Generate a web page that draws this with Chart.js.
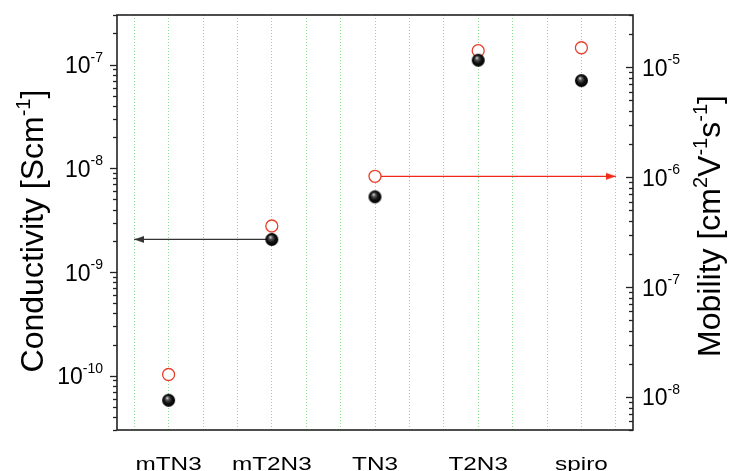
<!DOCTYPE html>
<html>
<head>
<meta charset="utf-8">
<script src="https://cdn.jsdelivr.net/npm/chart.js@4.4.0/dist/chart.umd.min.js"></script>
<style>
  html, body { margin: 0; padding: 0; background: #fff; }
  #wrap { width: 731px; height: 471px; }
</style>
</head>
<body>
<div id="wrap"><canvas id="chart" width="731" height="471"></canvas></div>
<script>
// values
var categories = ['mTN3', 'mT2N3', 'TN3', 'T2N3', 'spiro'];
var conductivity = [5.8e-11, 2.06e-9, 5.3e-9, 1.10e-7, 7.0e-8];   // S/cm, left axis
var mobility = [1.6e-8, 3.6e-7, 1.02e-6, 1.42e-5, 1.51e-5];       // cm2/(V s), right axis

// axis ranges
var condRange = [3e-11, 3e-7];
var mobRange = [5e-9, 3e-5];
var xRange = [-0.5, 4.5];

// arrows: which point they start at and where the head ends (x in category units)
var condArrow = { from: 1, to: -1 / 3 };
var mobArrow = { from: 2, to: 13 / 3 };

var FONT = '"Liberation Sans", Arial, Helvetica, sans-serif';
var RED = '#e8402c';

// black shaded ball used as point style
function makeBall(r) {
    var c = document.createElement('canvas');
    c.width = c.height = r * 2 + 2;
    var g = c.getContext('2d');
    var cx = r + 1, cy = r + 1;
    var grad = g.createRadialGradient(cx - 1.5, cy - 2.5, 0.3, cx, cy, r);
    grad.addColorStop(0, '#d8d8d8');
    grad.addColorStop(0.25, '#555');
    grad.addColorStop(0.6, '#111');
    grad.addColorStop(1, '#000');
    g.fillStyle = grad;
    g.beginPath();
    g.arc(cx, cy, r, 0, Math.PI * 2);
    g.fill();
    return c;
}

// arrow head, tip at the canvas centre, pointing right
function makeHead(color) {
    var L = 10, H = 7;
    var c = document.createElement('canvas');
    c.width = L * 2;
    c.height = H + 2;
    var g = c.getContext('2d');
    g.fillStyle = color;
    g.beginPath();
    g.moveTo(L, c.height / 2);
    g.lineTo(0, c.height / 2 - H / 2);
    g.lineTo(0, c.height / 2 + H / 2);
    g.closePath();
    g.fill();
    return c;
}

var ball = makeBall(6.5);
var blackHead = makeHead('#333');
var redHead = makeHead('#f02a18');

function pts(vals) {
    return vals.map(function(v, i) { return { x: i, y: v }; });
}

function decadeTicks(scale) {
    var ticks = [];
    var lo = Math.floor(Math.log10(scale.min)), hi = Math.ceil(Math.log10(scale.max));
    for (var e = lo; e <= hi; e++) {
        for (var k = 1; k <= 9; k++) {
            var v = k * Math.pow(10, e);
            if (v >= scale.min * 0.999 && v <= scale.max * 1.001) ticks.push({ value: v, major: k === 1, exp: e });
        }
    }
    return ticks;
}

// draws text made of normal and superscript pieces, centred at the origin
function richText(ctx, parts, size) {
    var big = size + 'px ' + FONT, small = Math.round(size * 0.62) + 'px ' + FONT;
    var w = 0;
    ctx.textAlign = 'left';
    parts.forEach(function(p) {
        ctx.font = p.s ? small : big;
        p.w = ctx.measureText(p.t).width;
        w += p.w;
    });
    var x = -w / 2;
    parts.forEach(function(p) {
        ctx.font = p.s ? small : big;
        ctx.fillText(p.t, x, p.s ? -size * 0.4 : 0);
        x += p.w;
    });
}

var frame = {
    id: 'frame',
    afterDraw: function(chart) {
        var ctx = chart.ctx, a = chart.chartArea;
        ctx.save();
        ctx.strokeStyle = '#222';
        ctx.lineWidth = 1.6;
        ctx.strokeRect(a.left, a.top, a.right - a.left, a.bottom - a.top);

        // log ticks, both axes have them pointing left
        [['y', a.left], ['y2', a.right]].forEach(function(s) {
            var scale = chart.scales[s[0]];
            ctx.lineWidth = 1.3;
            decadeTicks(scale).forEach(function(t) {
                var py = Math.round(scale.getPixelForValue(t.value)) + 0.5;
                var len = t.major ? 7 : 4;
                ctx.beginPath();
                ctx.moveTo(s[1], py);
                ctx.lineTo(s[1] - len, py);
                ctx.stroke();
            });
        });

        // decade labels 10^n
        ctx.fillStyle = '#000';
        ctx.textBaseline = 'alphabetic';
        var big = '23px ' + FONT, small = '14px ' + FONT;
        [['y', a.left - 14, 'right'], ['y2', a.right + 9, 'left']].forEach(function(s) {
            var scale = chart.scales[s[0]];
            decadeTicks(scale).forEach(function(t) {
                if (!t.major) return;
                var py = scale.getPixelForValue(t.value);
                var ex = String(t.exp);
                ctx.font = small;
                var ws = ctx.measureText(ex).width;
                ctx.font = big;
                var wb = ctx.measureText('10').width;
                var x0 = s[2] === 'right' ? s[1] - ws - wb : s[1];
                ctx.textAlign = 'left';
                ctx.font = big;
                ctx.fillText('10', x0, py + 8.5);
                ctx.font = small;
                ctx.fillText(ex, x0 + wb, py - 3);
            });
        });

        // category names under the axis, a little wide like the original
        var xs = chart.scales.x;
        ctx.font = '19px ' + FONT;
        ctx.textAlign = 'center';
        categories.forEach(function(c, i) {
            ctx.save();
            ctx.translate(xs.getPixelForValue(i), 470);
            ctx.scale(1.28, 1);
            ctx.fillText(c, 0, 0);
            ctx.restore();
        });

        // axis titles, both read bottom to top
        ctx.save();
        ctx.translate(43, 231);
        ctx.rotate(-Math.PI / 2);
        richText(ctx, [{ t: 'Conductivity [Scm' }, { t: '-1', s: true }, { t: ']' }], 32);
        ctx.restore();

        ctx.save();
        ctx.translate(720, 226);
        ctx.rotate(-Math.PI / 2);
        richText(ctx, [{ t: 'Mobility [cm' }, { t: '2', s: true }, { t: 'V' }, { t: '-1', s: true },
                       { t: 's' }, { t: '-1', s: true }, { t: ']' }], 32);
        ctx.restore();
        ctx.restore();
    }
};

var ctx = document.getElementById('chart').getContext('2d');
var chart = new Chart(ctx, {
    type: 'scatter',
    data: {
        datasets: [{
            label: 'Conductivity',
            data: pts(conductivity),
            yAxisID: 'y',
            pointStyle: ball,
            pointRadius: 6.5,
            pointHoverRadius: 6.5
        }, {
            label: 'Mobility',
            data: pts(mobility),
            yAxisID: 'y2',
            pointStyle: 'circle',
            pointRadius: 6,
            pointHoverRadius: 6,
            borderColor: RED,
            borderWidth: 1.3,
            backgroundColor: '#fff'
        }, {
            label: 'cond arrow',
            data: [{ x: condArrow.from, y: conductivity[condArrow.from] }, { x: condArrow.to, y: conductivity[condArrow.from] }],
            yAxisID: 'y',
            showLine: true,
            borderColor: '#333',
            borderWidth: 1.3,
            pointStyle: blackHead,
            rotation: 180,
            pointRadius: [0, 5]
        }, {
            label: 'mob arrow',
            data: [{ x: mobArrow.from, y: mobility[mobArrow.from] }, { x: mobArrow.to, y: mobility[mobArrow.from] }],
            yAxisID: 'y2',
            showLine: true,
            borderColor: '#f02a18',
            borderWidth: 1.3,
            pointStyle: redHead,
            rotation: 0,
            pointRadius: [0, 5]
        }]
    },
    options: {
        responsive: false,
        animation: false,
        devicePixelRatio: 1,
        layout: { padding: { top: 15, left: 0, right: 0, bottom: 0 } },
        plugins: {
            legend: { display: false },
            tooltip: { enabled: false }
        },
        scales: {
            x: {
                type: 'linear',
                min: xRange[0],
                max: xRange[1],
                afterBuildTicks: function(scale) {
                    var t = [];
                    for (var k = -1; k <= 13; k++) t.push({ value: k / 3 });
                    scale.ticks = t;
                },
                afterFit: function(scale) { scale.height = 41; },
                ticks: { display: false },
                grid: {
                    color: 'rgba(110, 210, 110, 0.8)',
                    lineWidth: 1,
                    drawTicks: false
                },
                border: { display: false, dash: [1, 2] }
            },
            y: {
                type: 'logarithmic',
                position: 'left',
                min: condRange[0],
                max: condRange[1],
                afterFit: function(scale) { scale.width = 117; },
                ticks: { display: false },
                grid: { display: false },
                border: { display: false }
            },
            y2: {
                type: 'logarithmic',
                position: 'right',
                min: mobRange[0],
                max: mobRange[1],
                afterFit: function(scale) { scale.width = 98; },
                ticks: { display: false },
                grid: { display: false },
                border: { display: false }
            }
        }
    },
    plugins: [frame]
});
</script>
</body>
</html>
